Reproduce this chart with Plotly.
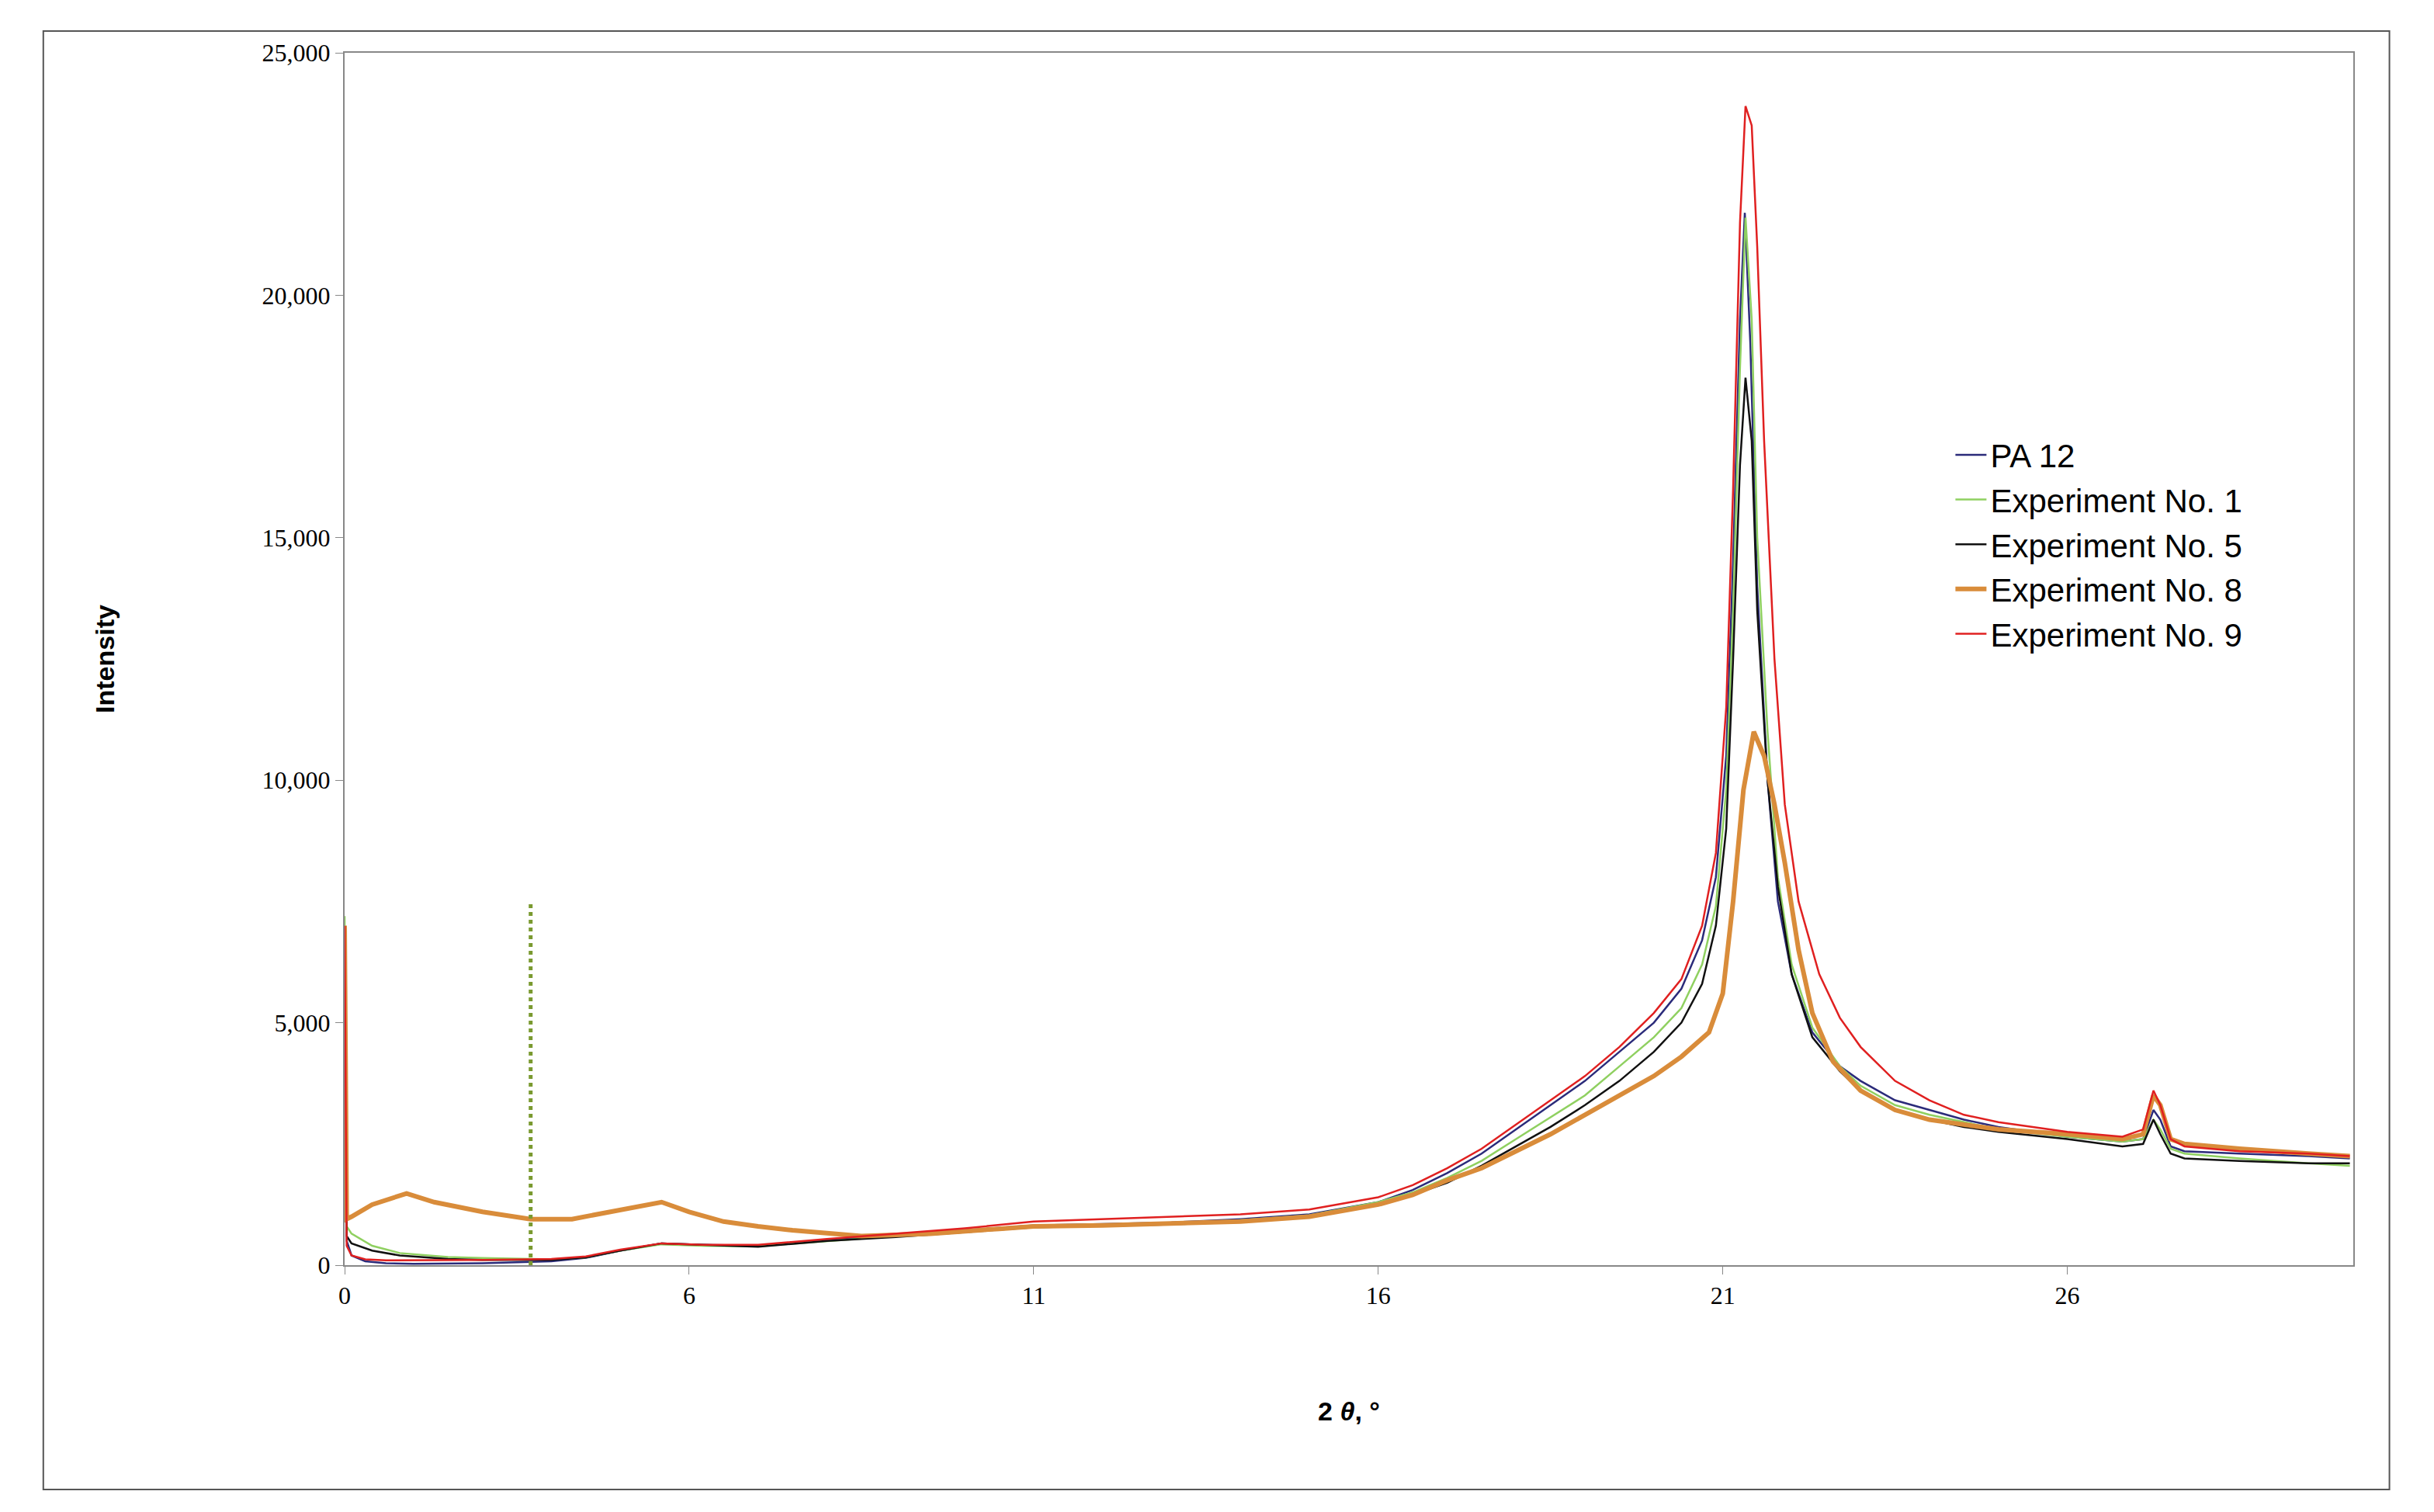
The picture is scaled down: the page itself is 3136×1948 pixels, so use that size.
import plotly.graph_objects as go

pa12_x = [1.0, 1.03, 1.1, 1.3, 1.6, 2.0, 3.0, 4.0, 4.5, 5.0, 5.6, 6.2, 7.0, 8.0, 9.0, 10.0, 11.0, 12.0, 13.0, 14.0, 15.0, 16.0, 16.5, 17.0, 17.5, 18.0, 18.5, 19.0, 19.5, 20.0, 20.4, 20.7, 20.9, 21.05, 21.15, 21.25, 21.32, 21.4, 21.5, 21.65, 21.8, 22.0, 22.3, 22.7, 23.0, 23.5, 24.0, 24.5, 25.0, 26.0, 26.8, 27.1, 27.25, 27.35, 27.5, 27.7, 28.5, 29.5, 30.1]
pa12_y = [6900, 500, 200, 80, 40, 30, 40, 80, 150, 300, 450, 420, 400, 520, 620, 720, 820, 850, 880, 950, 1050, 1300, 1550, 1900, 2300, 2800, 3300, 3800, 4400, 5000, 5700, 6700, 8000, 10500, 14500, 19500, 21700, 19000, 14000, 10000, 7500, 6000, 4800, 4100, 3800, 3400, 3200, 3000, 2850, 2650, 2550, 2600, 3200, 3000, 2450, 2350, 2300, 2250, 2200]

exp1_x = [1.0, 1.03, 1.1, 1.4, 1.8, 2.5, 3.0, 4.0, 4.5, 5.0, 5.6, 6.2, 7.0, 8.0, 9.0, 10.0, 11.0, 12.0, 13.0, 14.0, 15.0, 16.0, 16.5, 17.0, 17.5, 18.0, 18.5, 19.0, 19.5, 20.0, 20.4, 20.7, 20.9, 21.05, 21.15, 21.25, 21.33, 21.42, 21.5, 21.65, 21.8, 22.0, 22.3, 22.7, 23.0, 23.5, 24.0, 24.5, 25.0, 26.0, 26.8, 27.1, 27.25, 27.35, 27.5, 27.7, 28.5, 29.5, 30.1]
exp1_y = [7200, 800, 650, 400, 250, 170, 150, 120, 160, 300, 430, 400, 390, 500, 600, 700, 800, 830, 860, 930, 1030, 1300, 1500, 1800, 2150, 2600, 3050, 3500, 4100, 4700, 5300, 6200, 7400, 9800, 13500, 18500, 21600, 19500, 15000, 11000, 8000, 6200, 4900, 4100, 3700, 3300, 3100, 2950, 2800, 2650, 2550, 2600, 3000, 2800, 2400, 2300, 2200, 2100, 2050]

exp5_x = [1.0, 1.03, 1.1, 1.4, 1.8, 2.5, 3.0, 4.0, 4.5, 5.0, 5.6, 6.2, 7.0, 8.0, 9.0, 10.0, 11.0, 12.0, 13.0, 14.0, 15.0, 16.0, 16.5, 17.0, 17.5, 18.0, 18.5, 19.0, 19.5, 20.0, 20.4, 20.7, 20.9, 21.05, 21.15, 21.25, 21.33, 21.42, 21.5, 21.65, 21.8, 22.0, 22.3, 22.7, 23.0, 23.5, 24.0, 24.5, 25.0, 26.0, 26.8, 27.1, 27.25, 27.35, 27.5, 27.7, 28.5, 29.5, 30.1]
exp5_y = [6900, 600, 450, 300, 200, 130, 110, 110, 160, 300, 450, 420, 380, 500, 580, 680, 780, 810, 840, 900, 1000, 1250, 1450, 1700, 2050, 2450, 2850, 3300, 3800, 4400, 5000, 5800, 7000, 9000, 12500, 16500, 18300, 17000, 13500, 10000, 7800, 6000, 4700, 4000, 3600, 3200, 3000, 2850, 2750, 2600, 2450, 2500, 3000, 2700, 2300, 2200, 2150, 2100, 2100]

exp8_x = [1.0, 1.03, 1.1, 1.4, 1.9, 2.3, 3.0, 3.7, 4.3, 5.0, 5.6, 6.0, 6.5, 7.0, 7.5, 8.5, 9.5, 10.5, 11.0, 12.0, 13.0, 14.0, 15.0, 16.0, 16.5, 17.0, 17.5, 18.0, 18.5, 19.0, 19.5, 20.0, 20.4, 20.8, 21.0, 21.15, 21.3, 21.45, 21.6, 21.75, 21.9, 22.1, 22.3, 22.6, 23.0, 23.5, 24.0, 25.0, 26.0, 26.8, 27.1, 27.25, 27.35, 27.5, 27.7, 28.5, 29.5, 30.1]
exp8_y = [7000, 950, 1000, 1250, 1480, 1300, 1100, 950, 950, 1150, 1300, 1100, 900, 800, 720, 600, 650, 750, 800, 820, 850, 900, 1000, 1250, 1450, 1750, 2000, 2350, 2700, 3100, 3500, 3900, 4300, 4800, 5600, 7500, 9800, 11000, 10500, 9500, 8300, 6500, 5200, 4200, 3600, 3200, 3000, 2800, 2700, 2600, 2700, 3500, 3300, 2600, 2500, 2400, 2300, 2250]

exp9_x = [1.0, 1.03, 1.1, 1.3, 1.6, 2.0, 3.0, 4.0, 4.5, 5.0, 5.6, 6.2, 7.0, 8.0, 9.0, 10.0, 11.0, 12.0, 13.0, 14.0, 15.0, 16.0, 16.5, 17.0, 17.5, 18.0, 18.5, 19.0, 19.5, 20.0, 20.4, 20.7, 20.9, 21.05, 21.15, 21.25, 21.33, 21.42, 21.5, 21.6, 21.75, 21.9, 22.1, 22.4, 22.7, 23.0, 23.5, 24.0, 24.5, 25.0, 26.0, 26.8, 27.1, 27.25, 27.35, 27.5, 27.7, 28.5, 29.5, 30.1]
exp9_y = [7000, 400, 200, 120, 100, 100, 110, 130, 180, 320, 450, 420, 420, 540, 650, 760, 900, 950, 1000, 1050, 1150, 1400, 1650, 2000, 2400, 2900, 3400, 3900, 4500, 5200, 5900, 7000, 8500, 11500, 16000, 21500, 23900, 23500, 21000, 17000, 12500, 9500, 7500, 6000, 5100, 4500, 3800, 3400, 3100, 2950, 2750, 2650, 2800, 3600, 3300, 2600, 2450, 2350, 2300, 2250]

tick_vals = [1, 6, 11, 16, 21, 26]
tick_text = ["0", "6", "11", "16", "21", "26"]
y_ticks = [0, 5000, 10000, 15000, 20000, 25000]
marker_x = 3.7
marker_top = 7500

fig = go.Figure()
series = [
    ("PA 12", pa12_x, pa12_y, "#2b2b7a", 2.5),
    ("Experiment No. 1", exp1_x, exp1_y, "#8fd060", 2.5),
    ("Experiment No. 5", exp5_x, exp5_y, "#111111", 2.5),
    ("Experiment No. 8", exp8_x, exp8_y, "#d98c3a", 6),
    ("Experiment No. 9", exp9_x, exp9_y, "#e02020", 2.5),
]
for name, xs, ys, col, w in series:
    fig.add_trace(go.Scatter(x=xs, y=ys, mode="lines", name=name,
                             line=dict(color=col, width=w)))

fig.add_shape(type="line", x0=marker_x, x1=marker_x, y0=0, y1=marker_top,
              xref="x", yref="y", line=dict(color="#7a9a30", width=5, dash="dot"))
fig.add_shape(type="rect", xref="paper", yref="paper", x0=-0.150, x1=1.018,
              y0=-0.185, y1=1.018, line=dict(color="#555555", width=2))

fig.update_layout(
    width=3136, height=1948, paper_bgcolor="white", plot_bgcolor="white",
    margin=dict(l=436, r=112, t=60, b=326),
    showlegend=True,
    legend=dict(x=0.8, y=0.69, xanchor="left", yanchor="top",
                font=dict(family="Liberation Sans, Arial", size=42, color="black"),
                bgcolor="rgba(0,0,0,0)", tracegroupgap=0, itemwidth=40),
    xaxis=dict(range=[1, 30.15], tickvals=tick_vals, ticktext=tick_text,
               showgrid=False, zeroline=False, showline=True, mirror=True,
               linecolor="#888888", linewidth=2, ticks="outside", ticklen=10,
               tickcolor="#888888",
               tickfont=dict(family="Liberation Serif, Times New Roman", size=32, color="black"),
               title=dict(text="<b>2 <i>θ</i>, °</b>", standoff=120,
                          font=dict(family="Liberation Sans, Arial", size=34, color="black"))),
    yaxis=dict(range=[0, 25000], tickvals=y_ticks, tickformat=",d",
               showgrid=False, zeroline=False, showline=True, mirror=True,
               linecolor="#888888", linewidth=2, ticks="outside", ticklen=10,
               tickcolor="#888888",
               tickfont=dict(family="Liberation Serif, Times New Roman", size=32, color="black"),
               title=dict(text="<b>Intensity</b>", standoff=180,
                          font=dict(family="Liberation Sans, Arial", size=34, color="black"))),
)
fig.write_html("out.html")
